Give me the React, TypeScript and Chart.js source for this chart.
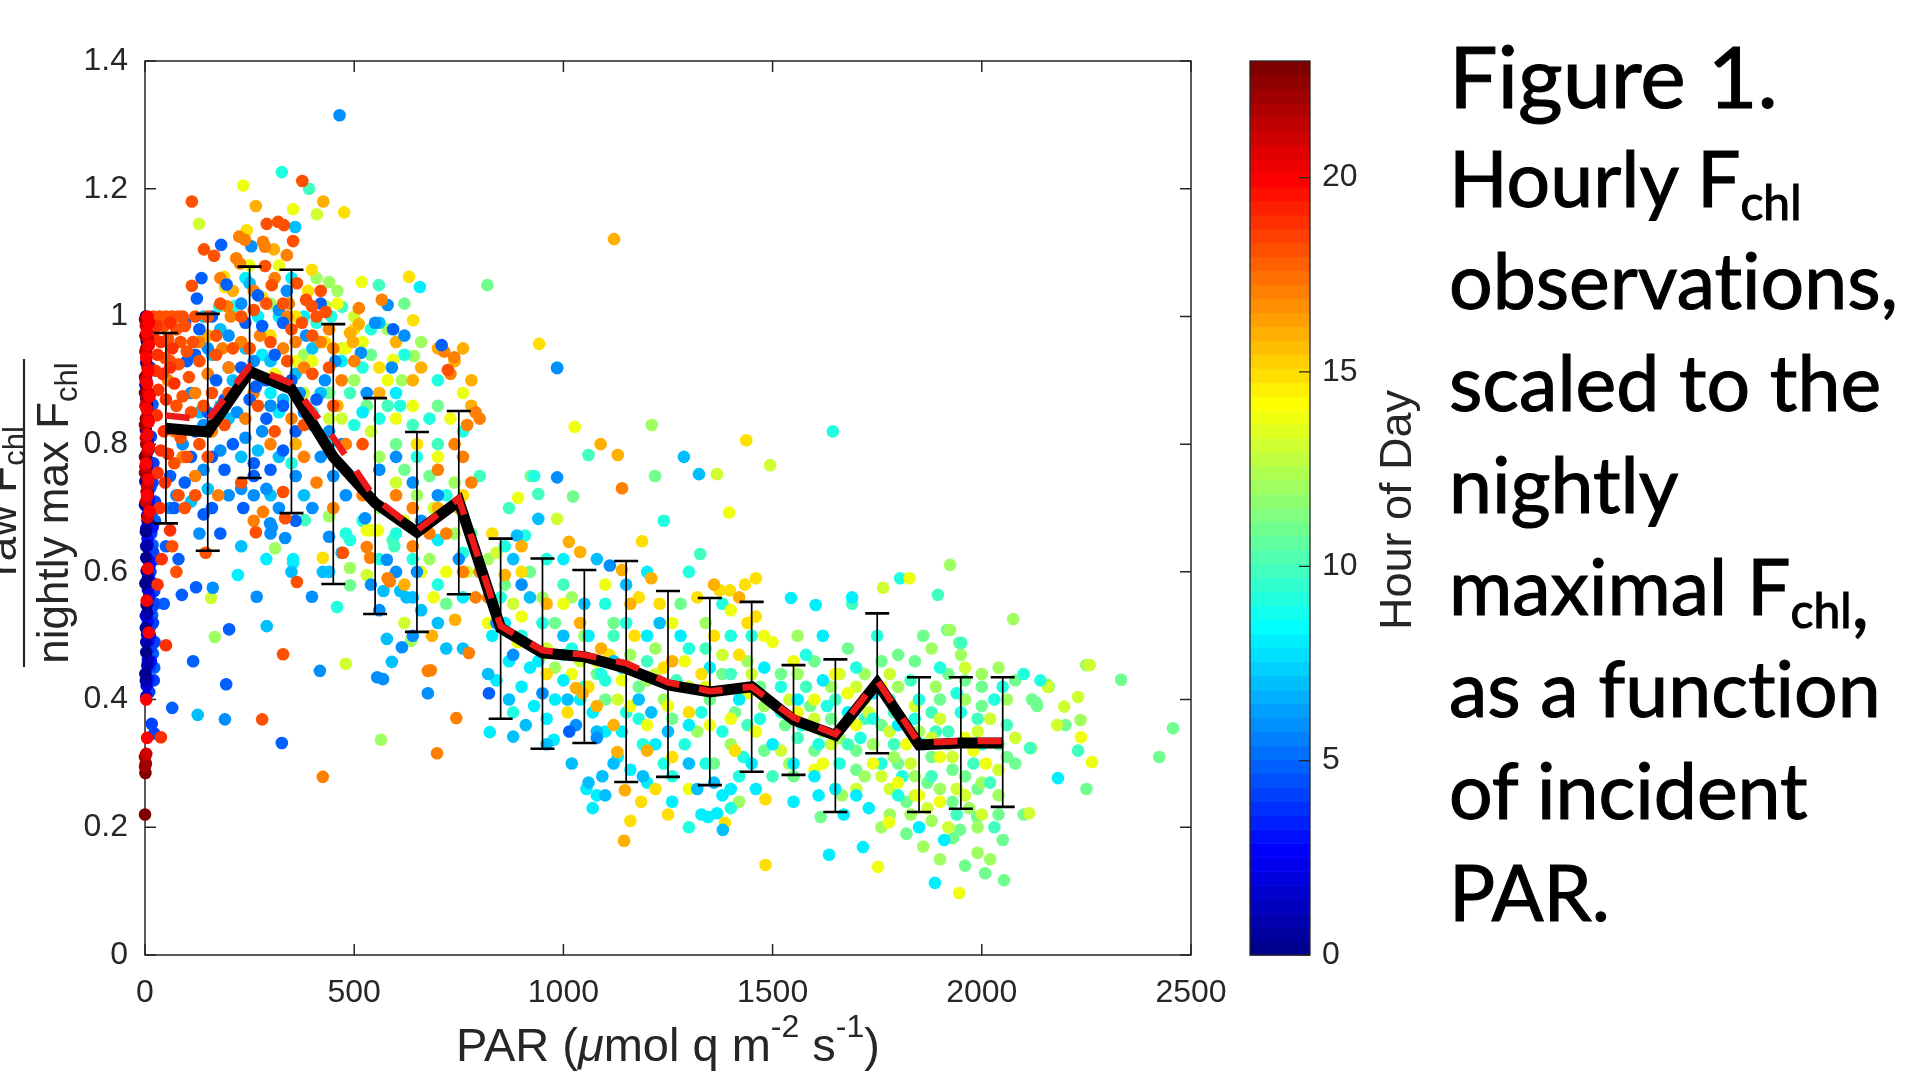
import React, { useEffect, useRef } from "react";
import { Chart, registerables } from "chart.js";
Chart.register(...registerables);

// ---------- data ----------
const binCenters = [50, 150, 250, 350, 450, 550, 650, 750, 850, 950, 1050, 1150, 1250, 1350, 1450, 1550, 1650, 1750, 1850, 1950, 2050];
const meanRatio = [0.825, 0.819, 0.914, 0.886, 0.78, 0.708, 0.662, 0.711, 0.512, 0.473, 0.467, 0.449, 0.423, 0.412, 0.42, 0.368, 0.344, 0.426, 0.329, 0.332, 0.332];
const medianRatio = [0.845, 0.838, 0.922, 0.895, 0.81, 0.715, 0.665, 0.715, 0.515, 0.477, 0.47, 0.457, 0.427, 0.413, 0.42, 0.372, 0.346, 0.43, 0.332, 0.335, 0.335];
const errLow = [0.676, 0.633, 0.747, 0.692, 0.581, 0.534, 0.506, 0.565, 0.37, 0.323, 0.332, 0.271, 0.279, 0.266, 0.287, 0.282, 0.224, 0.316, 0.224, 0.229, 0.232];
const errHigh = [0.974, 1.004, 1.078, 1.073, 0.988, 0.872, 0.819, 0.852, 0.652, 0.621, 0.603, 0.617, 0.57, 0.559, 0.553, 0.454, 0.463, 0.535, 0.435, 0.435, 0.435];

const xTicks = [0, 500, 1000, 1500, 2000, 2500];
const xTickLabels = ["0", "500", "1000", "1500", "2000", "2500"];
const yTicks = [0, 0.2, 0.4, 0.6, 0.8, 1, 1.2, 1.4];
const yTickLabels = ["0", "0.2", "0.4", "0.6", "0.8", "1", "1.2", "1.4"];
const hourTicks = [0, 5, 10, 15, 20];
const hourTickLabels = ["0", "5", "10", "15", "20"];

type P = [number, number];

const hour00: P[] = [[2,1.0],[4,0.962],[3,0.928],[1,0.893],[5,0.862],[2,0.822],[3,0.783],[1,0.742],[4,0.703],[2,0.663],[3,0.622],[1,0.582],[4,0.548],[2,0.512],[3,0.474],[1,0.44],[0,0.705],[5,0.6]];
const hour01: P[] = [[6,0.985],[3,0.9],[7,0.85],[4,0.77],[6,0.68],[3,0.64],[7,0.59],[5,0.535],[3,0.49],[6,0.455],[2,0.43]];
const hour02: P[] = [[5,0.99],[2,0.945],[6,0.912],[3,0.872],[6,0.803],[4,0.762],[7,0.722],[5,0.688],[3,0.668],[6,0.642],[4,0.602],[7,0.572],[2,0.531],[5,0.502],[7,0.462],[4,0.422],[3,0.405]];
const hour03: P[] = [[8,0.975],[6,0.842],[9,0.792],[7,0.752],[10,0.712],[8,0.678],[6,0.652],[9,0.618],[8,0.592],[10,0.562],[7,0.522],[9,0.492],[6,0.452],[8,0.432],[11,0.61],[12,0.5],[16,0.58],[14,0.46],[18,0.67]];
const hour04: P[] = [[12,0.92],[14,0.812],[11,0.772],[13,0.732],[12,0.7],[14,0.662],[11,0.632],[13,0.6],[12,0.562],[15,0.542],[11,0.512],[14,0.482],[12,0.452],[10,0.412],[16,0.362],[22,0.347],[18,0.74],[20,0.55],[25,0.62],[20,0.63],[22,0.57],[19,0.52],[23,0.49],[21,0.43],[24,0.71],[20,0.77]];
const hour05: P[] = [[18,0.862],[17,0.762],[16,0.692],[18,0.642],[20,0.582],[17,0.532],[19,0.472],[22,0.45],[24,0.68],[15,0.66],[25,0.55],[124,1.028],[182,1.112],[270,1.033],[709,0.955],[96,0.99],[280,0.985],[330,0.99],[65,0.387],[327,0.332],[194,0.424],[115,0.46],[201,0.51],[88,0.564],[122,0.576],[70,0.7],[60,0.75],[120,0.82],[150,0.85],[210,0.8],[260,0.77],[300,0.76],[140,0.69],[180,0.66],[50,0.64],[95,0.74],[170,0.9],[240,0.99],[310,0.94],[593,0.98],[80,0.62],[45,0.55],[330,0.79],[235,0.7],[420,1.02],[135,1.06],[290,0.84],[360,0.82],[190,0.87],[822,0.41],[1014,0.35],[100,0.93],[160,0.78],[230,0.92],[265,0.89],[330,0.86],[130,0.98],[160,1.0],[195,1.05],[290,0.9],[350,0.9],[410,0.87],[120,0.94],[250,0.87],[160,0.7],[260,0.75],[360,0.68],[110,0.78],[190,0.76]];
const hour06: P[] = [[465,1.315],[254,1.11],[339,1.04],[580,1.018],[516,0.943],[191,0.369],[267,0.561],[162,0.575],[399,0.561],[418,0.445],[555,0.435],[569,0.432],[614,0.482],[676,0.41],[335,0.653],[299,0.676],[303,0.67],[526,0.684],[578,0.619],[650,0.6],[60,0.7],[75,0.72],[130,0.66],[230,0.73],[260,0.72],[290,0.73],[440,0.655],[985,0.919],[985,0.748],[1111,0.61],[620,0.97],[430,0.9],[370,0.88],[220,0.85],[110,0.88],[180,0.79],[280,0.82],[600,0.78],[660,0.68],[480,0.72],[420,0.78],[360,0.75],[150,0.95],[200,0.97],[840,0.52],[880,0.47],[950,0.41],[1030,0.36],[1080,0.34],[560,0.76],[700,0.72],[750,0.62],[900,0.58],[240,0.81],[320,0.7],[90,0.8],[140,0.83],[550,0.99],[560,0.54],[640,0.5],[385,0.97],[455,0.93],[230,1.02],[260,0.93],[320,1.01],[380,0.85],[440,0.82],[470,0.8],[200,0.92],[300,0.86],[200,0.72],[300,0.66],[400,0.7],[450,0.75],[140,0.76],[530,0.88],[590,0.92],[640,0.74],[600,0.6],[540,0.58]];
const hour07: P[] = [[359,1.14],[126,0.376],[291,0.515],[590,0.459],[578,0.495],[425,0.6],[440,0.6],[640,0.56],[625,0.56],[570,0.57],[610,0.57],[1288,0.78],[1324,0.753],[940,0.683],[889,0.657],[1381,0.196],[985,0.92],[250,1.052],[180,0.98],[300,0.93],[400,0.95],[560,0.99],[150,0.73],[110,0.71],[230,0.64],[350,0.6],[470,0.63],[700,0.52],[760,0.48],[820,0.44],[870,0.4],[910,0.36],[960,0.33],[1020,0.3],[1060,0.27],[1100,0.25],[1000,0.5],[1050,0.55],[1120,0.46],[1180,0.4],[1250,0.35],[1300,0.3],[1360,0.27],[880,0.62],[920,0.56],[1080,0.62],[1150,0.58],[1230,0.52],[880,0.342],[1093,0.28],[1080,0.35],[200,0.84],[330,0.87],[270,0.79],[400,0.83],[160,0.94],[140,1.0],[210,0.9],[240,0.95],[280,0.9],[320,0.78],[360,0.91],[420,0.88],[180,0.86],[130,0.85],[230,0.78],[300,0.72],[380,0.72],[660,0.54],[720,0.48],[1010,0.4],[1140,0.45],[1210,0.38],[1320,0.26],[1190,0.28],[1120,0.3]];
const hour08: P[] = [[222,0.595],[354,0.614],[354,0.62],[657,1.046],[600,0.88],[520,0.85],[470,0.93],[700,0.65],[760,0.56],[830,0.5],[870,0.46],[900,0.42],[930,0.39],[960,0.37],[1000,0.43],[1040,0.4],[1070,0.38],[1100,0.35],[1130,0.31],[1160,0.29],[1200,0.27],[1260,0.24],[1330,0.22],[1400,0.26],[1450,0.3],[1500,0.33],[1550,0.3],[1600,0.28],[1650,0.26],[1700,0.25],[1690,0.56],[1603,0.548],[1544,0.559],[1888,0.113],[1635,0.157],[1716,0.169],[2182,0.277],[1346,0.216],[1367,0.222],[1200,0.6],[1280,0.5],[1350,0.45],[1420,0.4],[1480,0.45],[1560,0.4],[1620,0.43],[1680,0.38],[1740,0.41],[1800,0.36],[1860,0.33],[1620,0.5],[824,0.349],[977,0.337],[1055,0.26],[1070,0.23],[1080,0.25],[300,0.88],[270,1.0],[240,1.06],[320,1.0],[350,1.06],[380,1.0],[280,0.94],[320,0.85],[440,0.8],[290,0.62],[860,0.52],[940,0.46],[980,0.4],[1060,0.5],[1140,0.35],[1220,0.33],[1300,0.36],[1380,0.25],[1460,0.26],[1000,0.62],[1200,0.5],[920,0.45],[840,0.43],[1550,0.24],[1610,0.25],[1670,0.22],[1730,0.23],[1850,0.2],[1910,0.18]];
const hour09: P[] = [[327,1.226],[177,1.016],[213,1.016],[459,0.545],[480,0.66],[490,0.65],[1644,0.82],[908,0.657],[800,0.6],[850,0.56],[950,0.52],[1000,0.47],[1050,0.42],[1090,0.44],[1150,0.38],[1190,0.33],[1240,0.3],[1290,0.33],[1330,0.38],[1380,0.35],[1430,0.31],[1470,0.37],[1520,0.42],[1570,0.36],[1610,0.33],[1660,0.3],[1710,0.34],[1760,0.3],[1810,0.28],[1850,0.4],[1900,0.45],[1950,0.38],[2000,0.33],[2050,0.42],[2100,0.44],[2140,0.43],[1750,0.5],[1700,0.45],[1580,0.47],[1450,0.5],[1380,0.55],[1300,0.6],[1240,0.68],[1150,0.52],[930,0.75],[760,0.82],[700,0.9],[620,0.94],[540,0.98],[1805,0.59],[1300,0.2],[1400,0.23],[410,0.99],[445,1.0],[500,0.83],[400,0.85],[350,0.77],[520,0.92],[560,0.84],[610,0.86],[650,0.78],[680,0.84],[720,0.72],[600,0.66],[640,0.62],[700,0.58],[760,0.63],[560,0.62],[520,0.68],[900,0.5],[1020,0.48],[1100,0.43],[1180,0.37],[1260,0.28],[1340,0.3],[1420,0.28],[1100,0.55],[1300,0.48],[1400,0.5],[880,0.38],[860,0.64],[960,0.62],[1520,0.38],[1630,0.39],[1740,0.37],[1840,0.37],[1940,0.41],[2030,0.4],[1800,0.25]];
const hour10: P[] = [[392,1.2],[559,1.049],[471,1.015],[382,0.681],[592,0.65],[596,0.64],[1060,0.783],[940,0.722],[1327,0.628],[1895,0.564],[1951,0.489],[2115,0.324],[1690,0.55],[1720,0.37],[1780,0.4],[1830,0.43],[1880,0.38],[1920,0.35],[1980,0.3],[2020,0.27],[2060,0.36],[1650,0.4],[1560,0.34],[1500,0.28],[1440,0.36],[1400,0.44],[1340,0.48],[1270,0.43],[1200,0.46],[1120,0.5],[1000,0.58],[870,0.7],[800,0.75],[700,0.8],[640,0.83],[580,0.86],[490,0.88],[420,0.96],[2030,0.2],[1940,0.22],[1880,0.28],[1790,0.33],[1580,0.42],[1680,0.33],[1790,0.38],[1890,0.35],[1990,0.37],[2230,0.32]];
const hour11: P[] = [[490,0.579],[818,1.049],[922,0.75],[1023,0.718],[1219,0.75],[1917,0.509],[1946,0.489],[2333,0.431],[2457,0.355],[2424,0.31],[2130,0.395],[2132,0.39],[1989,0.216],[1948,0.196],[1931,0.183],[2053,0.117],[2008,0.128],[1615,0.216],[1550,0.28],[1800,0.47],[1860,0.5],[1900,0.4],[1960,0.43],[2000,0.39],[2040,0.33],[2080,0.3],[1990,0.26],[1930,0.29],[1870,0.27],[1820,0.24],[1760,0.36],[1700,0.32],[1640,0.37],[1590,0.39],[1530,0.36],[1470,0.42],[1410,0.38],[1350,0.4],[1260,0.37],[1180,0.42],[1080,0.44],[980,0.52],[860,0.58],[760,0.69],[680,0.75],[600,0.8],[530,0.86],[440,0.88],[2160,0.42],[2200,0.36],[2250,0.26],[2100,0.22],[2050,0.18],[540,0.94],[620,1.02],[700,0.86],[780,0.66],[620,0.76],[720,0.55],[920,0.6],[1120,0.52],[1280,0.55],[1380,0.44],[1480,0.32],[1360,0.3],[1100,0.4],[1520,0.44],[1600,0.46],[1680,0.48],[1760,0.46],[1840,0.46],[1920,0.44],[2000,0.42],[2080,0.43],[1600,0.32],[1700,0.29],[1800,0.3],[1880,0.31],[1960,0.28],[2060,0.31],[1820,0.19],[1930,0.24],[2040,0.22],[1960,0.14],[2120,0.4]];
const hour12: P[] = [[440,1.054],[643,0.938],[614,0.9],[564,0.337],[167,0.498],[311,0.637],[490,0.606],[636,0.492],[440,0.687],[1211,0.83],[1924,0.611],[1924,0.509],[2075,0.526],[2249,0.454],[2236,0.368],[2157,0.423],[2118,0.324],[1666,0.25],[1720,0.28],[1790,0.31],[1850,0.35],[1890,0.42],[1950,0.47],[2000,0.44],[2060,0.4],[2040,0.25],[1970,0.23],[1900,0.26],[1830,0.22],[1760,0.2],[1860,0.17],[1990,0.16],[1620,0.35],[1560,0.44],[1480,0.39],[1400,0.33],[1320,0.35],[1240,0.4],[1160,0.47],[1050,0.5],[950,0.56],[820,0.62],[740,0.66],[650,0.72],[560,0.78],[500,0.9],[380,0.94],[300,1.02],[410,1.06],[460,1.04],[580,0.98],[660,0.96],[740,0.74],[560,0.7],[680,0.62],[1020,0.56],[1220,0.48],[1340,0.52],[1440,0.46],[1420,0.24],[1200,0.43],[980,0.45],[1560,0.5],[1640,0.42],[1720,0.44],[1800,0.42],[1880,0.48],[1960,0.4],[2040,0.45],[1540,0.3],[1660,0.34],[1740,0.33],[1840,0.28],[1920,0.33],[2000,0.27],[1780,0.22],[1880,0.21],[1990,0.2],[1900,0.15],[2020,0.15]];
const hour13: P[] = [[411,1.16],[129,1.145],[432,1.016],[158,0.559],[480,0.456],[530,0.595],[1494,0.767],[1367,0.753],[1764,0.575],[2258,0.454],[2197,0.389],[2230,0.404],[2158,0.42],[2113,0.222],[1700,0.42],[1780,0.44],[1830,0.3],[1880,0.34],[1930,0.31],[1990,0.35],[2040,0.29],[1960,0.25],[1920,0.2],[1870,0.23],[1780,0.26],[1730,0.38],[1640,0.33],[1580,0.36],[1520,0.32],[1450,0.44],[1380,0.47],[1300,0.42],[1220,0.44],[1130,0.4],[1040,0.46],[960,0.48],[880,0.55],[770,0.6],[690,0.7],[600,0.74],[540,0.82],[470,0.84],[620,0.52],[985,0.683],[840,0.63],[380,0.88],[440,0.84],[470,0.95],[500,1.0],[1540,0.4],[1600,0.37],[1660,0.44],[1720,0.4],[1780,0.35],[1840,0.39],[1900,0.37],[1960,0.45],[2020,0.37],[2080,0.34],[1700,0.26],[1760,0.28],[1840,0.25],[1940,0.26],[2000,0.22],[2180,0.36]];
const hour14: P[] = [[235,1.205],[354,1.168],[518,1.054],[593,0.932],[1027,0.827],[892,0.716],[1396,0.693],[1827,0.59],[2237,0.341],[2263,0.302],[1946,0.097],[1752,0.138],[1778,0.208],[530,0.665],[540,0.665],[557,0.665],[1700,0.36],[1650,0.44],[1600,0.4],[1550,0.46],[1500,0.49],[1440,0.41],[1400,0.37],[1340,0.42],[1290,0.46],[1250,0.39],[1200,0.36],[1140,0.43],[1080,0.46],[1020,0.44],[950,0.47],[890,0.49],[820,0.52],[1740,0.3],[1800,0.27],[1850,0.25],[1900,0.31],[1960,0.34],[2010,0.3],[1650,0.26],[1600,0.29],[480,0.95],[400,0.93],[300,0.86],[600,0.84],[700,0.78],[720,0.6],[250,1.08],[320,1.08],[360,0.93],[460,1.02],[310,0.91],[520,0.96],[580,0.9],[640,0.86],[660,0.6],[690,0.56],[730,0.84],[760,0.88],[620,0.68],[900,0.53],[1000,0.55],[1100,0.58],[1260,0.52],[1400,0.54],[1480,0.5],[1160,0.39],[1350,0.36],[1460,0.35],[1300,0.26],[1560,0.38],[1620,0.3],[1680,0.41],[1760,0.42],[1820,0.33],[1900,0.24],[1980,0.32]];
const hour15: P[] = [[243,1.135],[399,1.073],[476,1.163],[189,1.062],[191,1.046],[631,1.062],[641,0.994],[942,0.957],[425,0.622],[1437,0.806],[1188,0.648],[1374,0.571],[1398,0.571],[1434,0.58],[1460,0.59],[1483,0.141],[1483,0.244],[1386,0.207],[1186,0.24],[1220,0.26],[1260,0.31],[1300,0.38],[1330,0.44],[1360,0.5],[1420,0.47],[1460,0.53],[1230,0.55],[1170,0.5],[1110,0.47],[1060,0.42],[1010,0.38],[960,0.44],[900,0.6],[830,0.66],[760,0.72],[650,0.8],[560,0.92],[360,1.0],[300,0.97],[280,1.03],[390,1.04],[430,0.96],[500,0.98],[1180,0.56],[1320,0.56],[1440,0.52],[1240,0.45],[1410,0.32],[1250,0.22],[1160,0.21]];
const hour16: P[] = [[265,1.173],[426,1.18],[308,1.105],[490,0.974],[497,0.96],[511,0.988],[1121,1.121],[1089,0.8],[1130,0.783],[1013,0.647],[1040,0.631],[1140,0.603],[860,0.595],[1147,0.258],[1145,0.179],[1129,0.318],[1030,0.418],[1046,0.41],[1120,0.36],[1080,0.39],[1040,0.52],[960,0.55],[900,0.64],[780,0.86],[740,0.93],[700,0.95],[640,0.9],[560,0.88],[460,0.86],[360,0.8],[250,0.95],[210,1.04],[150,0.97],[741,0.525],[686,0.5],[620,0.58],[750,0.7],[600,0.96],[660,0.92],[760,0.95],[780,0.9],[700,0.7],[1090,0.48],[1160,0.55],[1210,0.59],[1360,0.58],[1420,0.56],[1260,0.46],[1200,0.32]];
const hour17: P[] = [[225,1.125],[239,1.12],[282,1.117],[287,1.109],[339,1.096],[218,1.091],[227,1.083],[196,1.016],[344,1.02],[511,1.013],[566,1.026],[425,0.279],[676,0.445],[530,0.639],[538,0.622],[580,0.59],[585,0.585],[282,0.694],[1140,0.731],[739,0.936],[715,0.945],[730,0.91],[740,0.8],[760,0.78],[780,0.74],[790,0.85],[770,0.83],[700,0.76],[680,0.66],[640,0.7],[600,0.72],[520,0.72],[450,0.7],[380,0.78],[320,0.9],[260,0.88],[200,0.92],[130,0.96],[120,0.88],[160,0.82],[90,0.78],[70,0.82],[55,0.9],[440,0.98],[360,0.96],[698,0.316],[683,0.446],[744,0.371],[774,0.473],[790,0.56],[800,0.6],[820,0.56],[180,1.06],[205,1.0],[260,1.04],[310,1.06],[340,1.0],[420,0.96],[150,0.91],[185,0.95],[230,0.96],[275,0.97],[330,0.95],[380,0.92],[450,0.95],[470,0.9],[240,0.84],[300,0.8],[350,0.84],[120,0.75],[175,0.72],[260,0.68],[410,0.74],[480,0.8],[500,0.93],[640,0.64],[720,0.66],[760,0.6],[800,0.84]];
const hour18: P[] = [[112,1.18],[291,1.145],[318,1.148],[332,1.143],[354,1.118],[141,1.105],[165,1.095],[287,1.079],[112,1.048],[303,1.049],[363,1.052],[385,1.026],[399,1.016],[432,1.007],[376,1.212],[724,0.916],[280,0.369],[330,0.471],[363,0.584],[265,0.662],[335,0.684],[330,0.725],[473,0.63],[410,1.0],[375,0.99],[380,0.83],[250,0.95],[170,0.94],[200,0.88],[450,0.86],[520,0.8],[150,0.78],[230,0.74],[90,1.0],[95,0.985],[85,0.96],[100,0.945],[80,0.925],[105,0.905],[90,0.875],[75,0.86],[110,0.85],[85,0.81],[100,0.78],[70,0.77],[80,0.72],[95,0.7],[65,0.64],[75,0.6],[130,0.93],[140,0.86],[300,0.96],[340,0.93],[180,1.02],[230,1.0],[400,0.91],[290,1.02],[20,1.0],[35,1.0],[50,1.0],[65,1.0],[80,1.0],[45,0.985],[75,0.98],[55,0.965],[48,0.935],[120,1.0],[150,1.0],[170,0.97],[210,0.95],[260,1.01],[330,1.02],[350,0.98],[400,0.97],[420,1.04],[440,0.92],[160,0.88],[190,0.83],[270,0.86],[310,0.82],[130,0.8],[115,0.96],[60,0.93],[120,0.72],[145,0.63]];
const hour19: P[] = [[28,0.985],[60,0.99],[22,0.965],[38,0.96],[30,0.94],[65,0.95],[25,0.915],[42,0.91],[60,0.92],[32,0.885],[50,0.87],[70,0.895],[28,0.845],[45,0.82],[38,0.79],[55,0.785],[30,0.755],[48,0.74],[35,0.7],[60,0.665],[40,0.62],[30,0.58],[50,0.485],[38,0.341]];
const hour20: P[] = [[6,1.0],[10,0.99],[4,0.975],[9,0.955],[3,0.935],[8,0.915],[5,0.895],[11,0.875],[4,0.855],[9,0.835],[6,0.815],[10,0.795],[3,0.77],[8,0.745],[5,0.72],[11,0.695],[7,0.605],[4,0.555],[9,0.505],[3,0.4],[5,0.34]];
const hour21: P[] = [[2,0.985],[7,0.965],[1,0.945],[6,0.92],[2,0.9],[7,0.88],[1,0.86],[6,0.84],[2,0.81],[7,0.79],[1,0.765],[5,0.735],[2,0.71],[6,0.685],[3,0.315]];
const hour22: P[] = [[0,0.995],[3,0.95],[0,0.905],[4,0.87],[0,0.83],[3,0.8],[0,0.755],[4,0.725],[0,0.31],[2,0.3],[0,0.295]];
const hour23: P[] = [[1,0.97],[0,0.88],[2,0.84],[0,0.78],[1,0.285],[0,0.22]];

// drawing order: first entry is painted on top
const hourGroups: [number, P[]][] = [
  [20, hour20], [21, hour21], [22, hour22], [23, hour23], [19, hour19],
  [0, hour00], [1, hour01], [2, hour02], [3, hour03], [4, hour04],
  [18, hour18], [5, hour05], [17, hour17], [6, hour06], [16, hour16],
  [7, hour07], [15, hour15], [8, hour08], [14, hour14], [9, hour09],
  [13, hour13], [10, hour10], [12, hour12], [11, hour11],
];

// ---------- colour map (MATLAB jet, 64 levels, clim 0..23) ----------
function jetIndexColor(i: number): string {
  const u = (k: number) => (k < 1 || k > 47 ? 0 : k <= 16 ? k / 16 : k <= 31 ? 1 : (48 - k) / 16);
  const r = u(i - 24), g = u(i - 8), b = u(i + 8);
  return `rgb(${Math.round(r * 255)},${Math.round(g * 255)},${Math.round(b * 255)})`;
}
function hourColor(h: number): string {
  const idx = Math.min(64, Math.floor((h / 23) * 64) + 1);
  return jetIndexColor(idx);
}

// ---------- helpers ----------
const FONT = '"Liberation Sans", Arial, Helvetica, sans-serif';
const INK = "#262626";
type Part = { t: string; size: number; dy?: number; italic?: boolean };
function setFont(ctx: CanvasRenderingContext2D, p: Part) {
  ctx.font = `${p.italic ? "italic " : ""}${p.size}px ${FONT}`;
}
function richWidth(ctx: CanvasRenderingContext2D, parts: Part[]) {
  let w = 0;
  for (const p of parts) { setFont(ctx, p); w += ctx.measureText(p.t).width; }
  return w;
}
function drawRich(ctx: CanvasRenderingContext2D, parts: Part[], x: number, y: number) {
  let cx = x;
  for (const p of parts) {
    setFont(ctx, p);
    ctx.fillText(p.t, cx, y + (p.dy || 0));
    cx += ctx.measureText(p.t).width;
  }
}

const errorBarPlugin = {
  id: "errorBars",
  beforeDatasetDraw(chart: any, args: any) {
    if (args.index !== 1) return;
    const { ctx } = chart;
    const x = chart.scales.x, y = chart.scales.y;
    ctx.save();
    ctx.strokeStyle = "#000";
    binCenters.forEach((c, i) => {
      const px = x.getPixelForValue(c);
      const yl = y.getPixelForValue(errLow[i]);
      const yh = y.getPixelForValue(errHigh[i]);
      ctx.lineWidth = 1.7;
      ctx.beginPath(); ctx.moveTo(px, yl); ctx.lineTo(px, yh); ctx.stroke();
      ctx.lineWidth = 2.6;
      ctx.beginPath();
      ctx.moveTo(px - 12, yl); ctx.lineTo(px + 12, yl);
      ctx.moveTo(px - 12, yh); ctx.lineTo(px + 12, yh);
      ctx.stroke();
    });
    ctx.restore();
  },
};

const framePlugin = {
  id: "frame",
  beforeDatasetsDraw(chart: any) {
    const { ctx, chartArea } = chart;
    const { left, right, top, bottom } = chartArea;
    const x = chart.scales.x, y = chart.scales.y;
    ctx.save();
    ctx.strokeStyle = INK;
    ctx.lineWidth = 1.5;
    ctx.strokeRect(left, top, right - left, bottom - top);
    const tl = 11;
    ctx.beginPath();
    xTicks.forEach((v) => {
      const px = x.getPixelForValue(v);
      ctx.moveTo(px, bottom); ctx.lineTo(px, bottom - tl);
      ctx.moveTo(px, top); ctx.lineTo(px, top + tl);
    });
    yTicks.forEach((v) => {
      const py = y.getPixelForValue(v);
      ctx.moveTo(left, py); ctx.lineTo(left + tl, py);
      ctx.moveTo(right, py); ctx.lineTo(right - tl, py);
    });
    ctx.stroke();
    ctx.restore();
  },
};

const labelsPlugin = {
  id: "labels",
  afterDraw(chart: any) {
    const { ctx, chartArea } = chart;
    const { left, right, top, bottom } = chartArea;
    const x = chart.scales.x, y = chart.scales.y, hs = chart.scales.hour;
    ctx.save();
    ctx.fillStyle = INK;
    const tickFont = `32px ${FONT}`;

    // y tick labels
    ctx.font = tickFont; ctx.textAlign = "right"; ctx.textBaseline = "middle";
    yTicks.forEach((v, i) => ctx.fillText(yTickLabels[i], left - 17, y.getPixelForValue(v)));
    // x tick labels
    ctx.textAlign = "center"; ctx.textBaseline = "alphabetic";
    xTicks.forEach((v, i) => ctx.fillText(xTickLabels[i], x.getPixelForValue(v), bottom + 47));

    // x axis title
    ctx.textAlign = "left";
    const xt: Part[] = [
      { t: "PAR (", size: 47 }, { t: "\u03bc", size: 47, italic: true }, { t: "mol q m", size: 47 },
      { t: "-2", size: 32, dy: -24 }, { t: " s", size: 47 }, { t: "-1", size: 32, dy: -24 }, { t: ")", size: 47 },
    ];
    const xw = richWidth(ctx, xt);
    drawRich(ctx, xt, (left + right) / 2 - xw / 2, bottom + 106);

    // y axis title (fraction, rotated)
    const midY = (top + bottom) / 2 + 5;
    const den: Part[] = [{ t: "nightly max F", size: 44 }, { t: "chl", size: 31, dy: 9 }];
    const num: Part[] = [{ t: "raw F", size: 44 }, { t: "chl", size: 31, dy: 9 }];
    ctx.save();
    ctx.translate(68, midY); ctx.rotate(-Math.PI / 2);
    drawRich(ctx, den, -richWidth(ctx, den) / 2, 0);
    ctx.restore();
    ctx.save();
    ctx.translate(16, midY - 12); ctx.rotate(-Math.PI / 2);
    drawRich(ctx, num, -richWidth(ctx, num) / 2, 0);
    ctx.restore();
    ctx.strokeStyle = INK; ctx.lineWidth = 2.2;
    ctx.beginPath(); ctx.moveTo(24, midY - 154); ctx.lineTo(24, midY + 154); ctx.stroke();

    // colour bar
    const cbL = right + 59, cbR = right + 119;
    for (let i = 0; i < 64; i++) {
      const y0 = hs.getPixelForValue((i * 23) / 64);
      const y1 = hs.getPixelForValue(((i + 1) * 23) / 64);
      ctx.fillStyle = jetIndexColor(i + 1);
      ctx.fillRect(cbL, y1, cbR - cbL, y0 - y1 + 0.6);
    }
    ctx.strokeStyle = INK; ctx.lineWidth = 1.3;
    ctx.strokeRect(cbL, top, cbR - cbL, bottom - top);
    ctx.beginPath();
    hourTicks.forEach((v) => {
      const py = hs.getPixelForValue(v);
      ctx.moveTo(cbR, py); ctx.lineTo(cbR - 11, py);
    });
    ctx.stroke();
    ctx.fillStyle = INK;
    ctx.font = tickFont; ctx.textAlign = "left"; ctx.textBaseline = "middle";
    hourTicks.forEach((v, i) => ctx.fillText(hourTickLabels[i], cbR + 12, hs.getPixelForValue(v)));

    // colour bar title
    ctx.save();
    ctx.translate(cbR + 101, midY - 3); ctx.rotate(-Math.PI / 2);
    ctx.font = `45px ${FONT}`; ctx.textAlign = "center"; ctx.textBaseline = "alphabetic";
    ctx.fillText("Hour of Day", 0, 0);
    ctx.restore();

    ctx.restore();
  },
};

export default function App() {
  const ref = useRef<HTMLCanvasElement | null>(null);
  useEffect(() => {
    if (!ref.current) return;
    const scatterSets = hourGroups.map(([h, pts]) => ({
      type: "scatter" as const,
      label: `hour ${h}`,
      data: pts.map(([px, py]) => ({ x: px, y: py })),
      pointRadius: 6.3,
      pointHoverRadius: 6.3,
      pointBackgroundColor: hourColor(h),
      pointBorderWidth: 0,
      borderWidth: 0,
      showLine: false,
      clip: false as any,
    }));
    const chart = new Chart(ref.current, {
      type: "scatter",
      data: {
        datasets: [
          {
            type: "line",
            label: "median",
            data: binCenters.map((c, i) => ({ x: c, y: medianRatio[i] })),
            borderColor: "rgb(238,26,26)",
            borderWidth: 6.5,
            borderDash: [24, 20],
            borderCapStyle: "butt",
            pointRadius: 0,
            showLine: true,
            tension: 0,
            fill: false,
            borderJoinStyle: "miter",
            clip: false as any,
          },
          {
            type: "line",
            label: "mean",
            data: binCenters.map((c, i) => ({ x: c, y: meanRatio[i] })),
            borderColor: "#000",
            borderWidth: 11,
            pointRadius: 0,
            showLine: true,
            tension: 0,
            fill: false,
            borderJoinStyle: "miter",
            clip: false as any,
          },
          ...scatterSets,
        ] as any,
      },
      options: {
        animation: false,
        responsive: false,
        devicePixelRatio: 1,
        events: [],
        layout: { padding: { left: 145, top: 61, right: 720, bottom: 118 } },
        plugins: { legend: { display: false }, tooltip: { enabled: false } },
        scales: {
          x: { type: "linear", min: 0, max: 2500, display: false },
          y: { type: "linear", min: 0, max: 1.4, display: false },
          hour: { type: "linear", axis: "y", position: "right", min: 0, max: 23, display: false },
        },
      } as any,
      plugins: [framePlugin, errorBarPlugin, labelsPlugin],
    });
    return () => chart.destroy();
  }, []);

  const cap: any = { fontFamily: "Lato, 'Open Sans', sans-serif", fontVariantLigatures: "none", fontFeatureSettings: '"liga" 0, "clig" 0' };
  return (
    <div style={{ position: "fixed", left: 0, top: 0, width: 1911, height: 1073, background: "#fff", overflow: "hidden" }}>
      <canvas ref={ref} width={1911} height={1073} style={{ position: "absolute", left: 0, top: 0, width: 1911, height: 1073 }} />
      <svg width={1911} height={1073} style={{ position: "absolute", left: 0, top: 0, pointerEvents: "none" }}>
        <g style={cap} fill="#000" stroke="#000" strokeWidth={1.1}>
          <text x={1449} y={108} fontSize={86}>Figure 1.</text>
          <text x={1449} y={207} fontSize={77}>Hourly F<tspan fontSize={48} dy={13}>chl</tspan></text>
          <text x={1449} y={309} fontSize={77}>observations,</text>
          <text x={1449} y={411} fontSize={77}>scaled to the</text>
          <text x={1449} y={513} fontSize={77}>nightly</text>
          <text x={1449} y={615} fontSize={77}>maximal F<tspan fontSize={48} dy={13}>chl</tspan><tspan>,</tspan></text>
          <text x={1449} y={717} fontSize={77}>as a function</text>
          <text x={1449} y={819} fontSize={77}>of incident</text>
          <text x={1449} y={921} fontSize={77}>PAR.</text>
        </g>
      </svg>
    </div>
  );
}
